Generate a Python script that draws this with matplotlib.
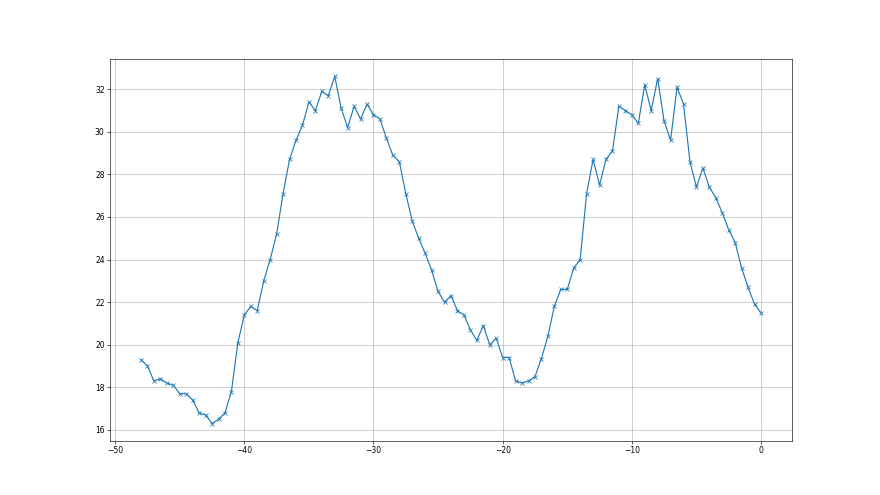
import numpy as np
import matplotlib
matplotlib.use("Agg")
import matplotlib.pyplot as plt

# x positions: -48 .. 0 in steps of 0.5
x = np.arange(-48, 0.01, 0.5)
y = [19.3, 19.0, 18.3, 18.4, 18.2, 18.1, 17.7, 17.7, 17.4, 16.8,
     16.7, 16.3, 16.5, 16.8, 17.8, 20.1, 21.4, 21.8, 21.6, 23.0,
     24.0, 25.2, 27.1, 28.7, 29.6, 30.3, 31.4, 31.0, 31.9, 31.7,
     32.6, 31.1, 30.2, 31.2, 30.6, 31.3, 30.8, 30.6, 29.7, 28.9,
     28.6, 27.1, 25.8, 25.0, 24.3, 23.5, 22.5, 22.0, 22.3, 21.6,
     21.4, 20.7, 20.2, 20.9, 20.0, 20.3, 19.4, 19.4, 18.3, 18.2,
     18.3, 18.5, 19.35, 20.4, 21.8, 22.6, 22.6, 23.6, 24.0, 27.1,
     28.7, 27.5, 28.7, 29.1, 31.2, 31.0, 30.8, 30.4, 32.2, 31.0,
     32.5, 30.5, 29.6, 32.1, 31.3, 28.6, 27.4, 28.3, 27.4, 26.9,
     26.2, 25.4, 24.8, 23.6, 22.7, 21.9, 21.5]

fig, ax = plt.subplots(figsize=(16, 9), dpi=55)
ax.plot(x, y, marker='x', color='#1f77b4', linewidth=1.5, markersize=6)
ax.grid(True, color='#b0b0b0', linewidth=0.8)
ax.tick_params(axis='both', which='major', labelsize=10)
ax.set_xticks([-50, -40, -30, -20, -10, 0])
ax.set_yticks([16, 18, 20, 22, 24, 26, 28, 30, 32])
ax.set_ylim(15.5, 33.4)

plt.savefig("out.png", dpi=55)
